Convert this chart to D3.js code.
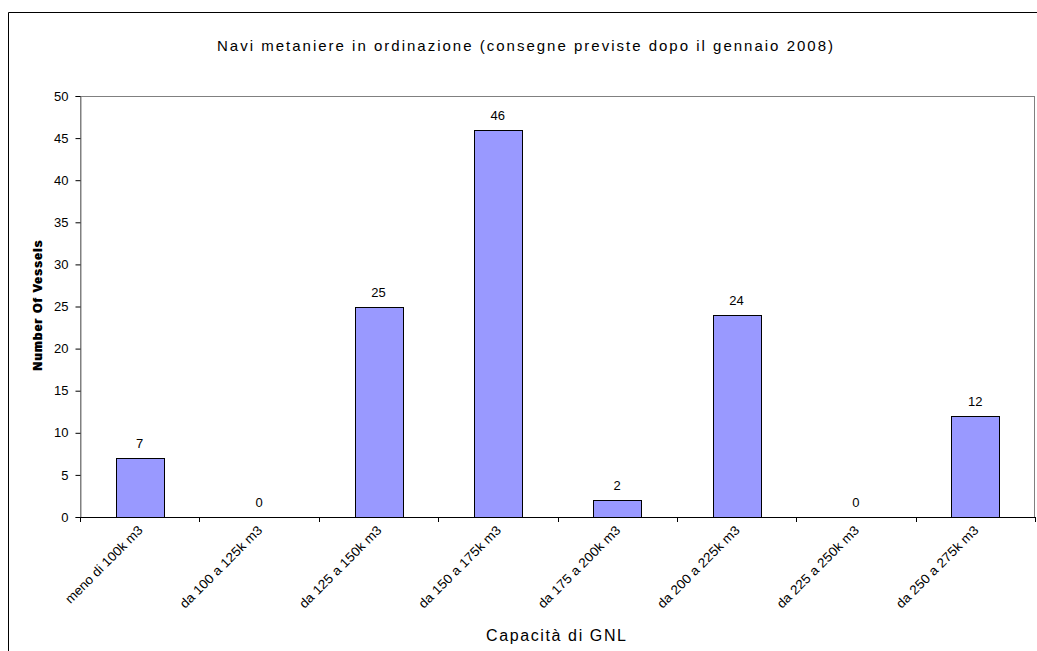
<!DOCTYPE html>
<html>
<head>
<meta charset="utf-8">
<script src="https://cdn.jsdelivr.net/npm/d3@7"></script>
<style>
  body { margin: 0; background: #fff; }
  svg { display: block; font-family: "Liberation Sans", Arial, sans-serif; }
</style>
</head>
<body>
<svg id="chart" width="1037" height="651"></svg>
<script>
// Capacity classes and number of LNG carriers on order
const categories = ["meno di 100k m3", "da 100 a 125k m3", "da 125 a 150k m3", "da 150 a 175k m3",
                    "da 175 a 200k m3", "da 200 a 225k m3", "da 225 a 250k m3", "da 250 a 275k m3"];
const vessels = [7, 0, 25, 46, 2, 24, 0, 12];
const yTicks = [0, 5, 10, 15, 20, 25, 30, 35, 40, 45, 50];

const svg = d3.select("#chart");
const plotL = 80, plotR = 1035, plotT = 96, plotB = 517;

// outer chart frame (right and bottom edges fall outside the page)
svg.append("path").attr("d", "M8.5,651 L8.5,12.5 L1040,12.5")
  .attr("fill", "none").attr("stroke", "#000").attr("stroke-width", 1);

const x = d3.scaleBand().domain(categories).range([plotL, plotR]).paddingInner(0.6).paddingOuter(0.3);
const y = d3.scaleLinear().domain([0, 50]).range([plotB, plotT]);

// plot area border
svg.append("rect").attr("x", plotL + 0.5).attr("y", plotT + 0.5)
  .attr("width", plotR - plotL - 1).attr("height", plotB - plotT)
  .attr("fill", "none").attr("stroke", "#808080").attr("stroke-width", 1);

// bars
svg.selectAll("rect.bar").data(vessels).join("rect").attr("class", "bar")
  .attr("x", (d, i) => Math.round(x(categories[i])) + 0.5)
  .attr("y", d => Math.round(y(d)) + 0.5)
  .attr("width", Math.round(x.bandwidth()))
  .attr("height", d => Math.round(y(0)) - Math.round(y(d)))
  .attr("fill", "#9999FF").attr("stroke", "#000").attr("stroke-width", 1)
  .style("display", d => d > 0 ? null : "none");

// value labels
svg.selectAll("text.val").data(vessels).join("text").attr("class", "val")
  .attr("x", (d, i) => x(categories[i]) + x.bandwidth() / 2)
  .attr("y", d => y(d) - 10)
  .attr("text-anchor", "middle").attr("font-size", 13).attr("fill", "#000")
  .text(d => d);

// y axis
const yAxis = svg.append("g").attr("transform", `translate(${plotL + 0.5},0)`)
  .call(d3.axisLeft(y).tickValues(yTicks).tickSize(5).tickPadding(7));
yAxis.select(".domain").attr("stroke", "#808080");
yAxis.selectAll(".tick line").attr("stroke", "#000");
yAxis.selectAll("text").attr("font-size", 13).attr("fill", "#000")
  .style("font-family", '"Liberation Sans", Arial, sans-serif');

// x axis: ticks at category boundaries
const boundaries = d3.range(categories.length + 1).map(i => plotL + i * (plotR - plotL) / categories.length);
const xg = svg.append("g");
xg.append("line").attr("x1", plotL).attr("x2", plotR).attr("y1", plotB + 0.5).attr("y2", plotB + 0.5)
  .attr("stroke", "#000");
xg.selectAll("line.tk").data(boundaries).join("line").attr("class", "tk")
  .attr("x1", d => Math.round(d) + 0.5).attr("x2", d => Math.round(d) + 0.5)
  .attr("y1", plotB).attr("y2", plotB + 5).attr("stroke", "#000");
xg.selectAll("text").data(categories).join("text")
  .attr("transform", d => `translate(${x(d) + x.bandwidth() / 2 + 4},${plotB + 14}) rotate(-45)`)
  .attr("text-anchor", "end").attr("font-size", 13).attr("fill", "#000")
  .attr("textLength", d => d.length * 6.9).attr("lengthAdjust", "spacingAndGlyphs")
  .text(d => d);

// titles
svg.append("text").attr("x", 525).attr("y", 51).attr("text-anchor", "middle")
  .attr("font-size", 15).attr("textLength", 616).attr("lengthAdjust", "spacing")
  .attr("fill", "#000").text("Navi metaniere in ordinazione (consegne previste dopo il gennaio 2008)");
svg.append("text").attr("x", 556).attr("y", 641).attr("text-anchor", "middle")
  .attr("font-size", 16).attr("textLength", 140).attr("lengthAdjust", "spacing")
  .attr("fill", "#000").text("Capacità di GNL");

// y axis title
const yt = svg.append("g").attr("transform", "translate(42,306) rotate(-90)");
[0, 1].forEach(dx => {
  yt.append("text").attr("x", dx).attr("y", 0).attr("text-anchor", "middle")
    .attr("font-size", 12).attr("font-weight", "bold").attr("textLength", 130)
    .attr("lengthAdjust", "spacing").attr("fill", "#000").text("Number Of Vessels");
});
</script>
</body>
</html>
